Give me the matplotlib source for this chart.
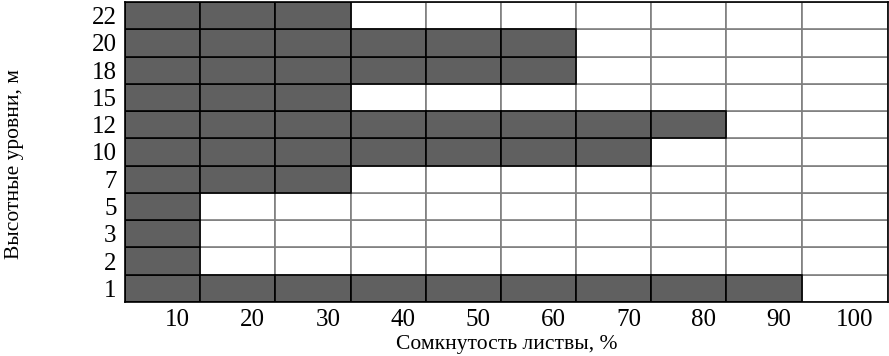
import numpy as np
import matplotlib.pyplot as plt
from matplotlib.patches import Rectangle

plt.rcParams['font.family'] = ['Liberation Serif', 'DejaVu Serif']

# canopy closure categories, %
closure = [10, 20, 30, 40, 50, 60, 70, 80, 90, 100]
# height levels, m (bottom to top)
levels = ['1', '2', '3', '5', '7', '10', '12', '15', '18', '20', '22']
# how many closure classes are filled for each level
filled = [9, 1, 1, 1, 3, 7, 8, 3, 6, 6, 3]

dark = '#606060'
xmax = 10.15

fig = plt.figure(figsize=(8.89, 3.56), dpi=100)
ax = fig.add_axes([125 / 889, 54 / 356, 763 / 889, 300 / 356])

nx = len(closure)
ny = len(levels)

# white cells first, then dark ones on top
for j in range(ny):
    for i in range(nx):
        if i >= filled[j]:
            w = 1 if i < nx - 1 else xmax - i
            ax.add_patch(Rectangle((i, j), w, 1, facecolor='white',
                                   edgecolor='#7f7f7f', linewidth=1.2))
for j in range(ny):
    for i in range(filled[j]):
        ax.add_patch(Rectangle((i, j), 1, 1, facecolor=dark,
                               edgecolor='black', linewidth=1.2))

ax.set_xlim(0, xmax)
ax.set_ylim(0, ny)

ax.set_xticks(np.arange(nx) + 0.7)
ax.set_xticklabels([str(c) for c in closure])
ax.set_yticks(np.arange(ny) + 0.5)
ax.set_yticklabels(levels)
ax.tick_params(length=0, labelsize=18, pad=6)
ax.tick_params(axis='x', pad=5)

for s in ax.spines.values():
    s.set_color('black')
    s.set_linewidth(1.2)

ax.set_xlabel('Сомкнутость листвы, %', fontsize=15.5, labelpad=3)
ax.set_ylabel('Высотные уровни, м', fontsize=15.5)
ax.yaxis.set_label_coords(-0.133, 0.46)

fig.savefig('out.png', dpi=100)
